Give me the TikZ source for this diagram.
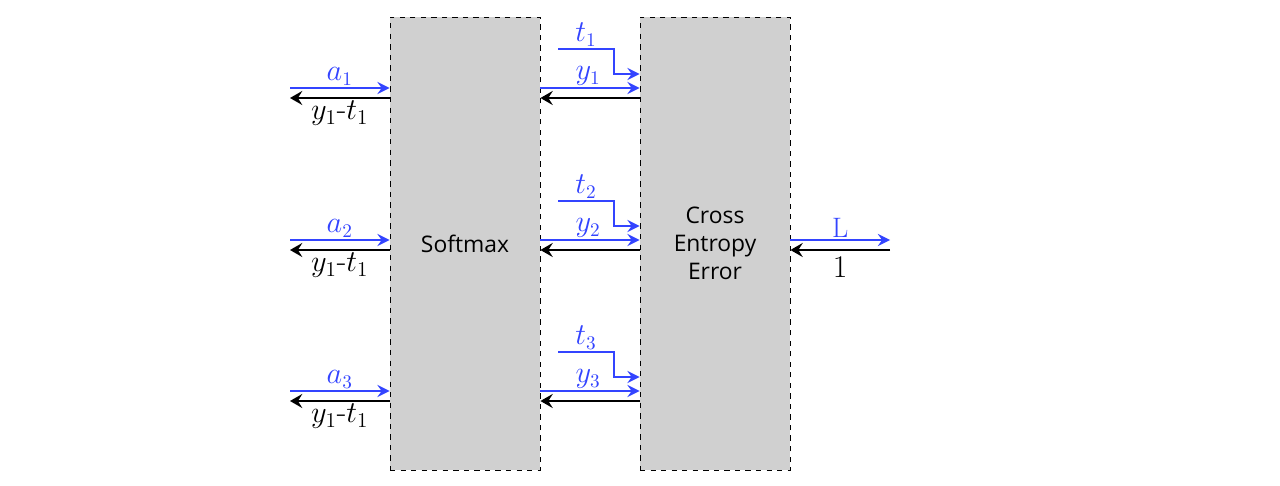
\documentclass[tikz,border=0pt]{standalone}
\usepackage{fontspec}
\setsansfont{Open Sans}
\usetikzlibrary{arrows.meta,positioning,calc}
\definecolor{fwd}{HTML}{3344FF}
\definecolor{layer}{HTML}{D0D0D0}

\begin{document}
\begin{tikzpicture}[x=0.02cm,y=-0.02cm,
   blk/.style={draw=black,dashed,line width=0.5pt,fill=layer,minimum width=3cm,
               minimum height=9.06cm,align=center,inner sep=0pt,
               font=\sffamily\fontsize{13}{16}\selectfont},
   fw/.style={fwd,line width=0.9pt,-{Stealth[length=7pt,width=7pt,inset=2.5pt]},
              font=\fontsize{16}{18}\selectfont},
   bw/.style={black,line width=1.7pt,-{Stealth[length=7pt,width=8pt,inset=2.5pt]},
              font=\fontsize{18}{20}\selectfont}]
  \useasboundingbox (0,0) rectangle (1280,486);
  \node[blk] (sm) at (465,243.5) {Softmax};
  \node[blk] (ce) at (715,243.5) {Cross\\Entropy\\Error};
  \foreach \i/\y in {1/88,2/240,3/391} {
    \coordinate (a\i) at (290,\y);
    \coordinate (g\i) at (290,\y+10);
    \coordinate (t\i) at (558,\y-39);
    \draw[fw] (a\i) -- (a\i -| sm.west) node[midway,above,inner sep=1pt] {$a_\i$};
    \draw[bw] (g\i -| sm.west) -- (g\i) node[midway,below,inner sep=1pt] {$y_1$-$t_1$};
    \draw[fw] (a\i -| sm.east) -- (a\i -| ce.west) node[pos=0.48,above,inner sep=1pt] {$y_\i$};
    \draw[bw] (g\i -| ce.west) -- (g\i -| sm.east);
    \draw[fw] (t\i) -- node[above,inner sep=1pt] {$t_\i$} ++(56,0) |- ($(a\i -| ce.west)+(0,-14)$);
  }
  \coordinate (out) at (890,240);
  \coordinate (back) at (890,250);
  \draw[fw] (out -| ce.east) -- (out) node[midway,above,inner sep=1pt] {$\mathrm{L}$};
  \draw[bw] (back) -- (back -| ce.east) node[midway,below,inner sep=3pt] {1};
\end{tikzpicture}
\end{document}
